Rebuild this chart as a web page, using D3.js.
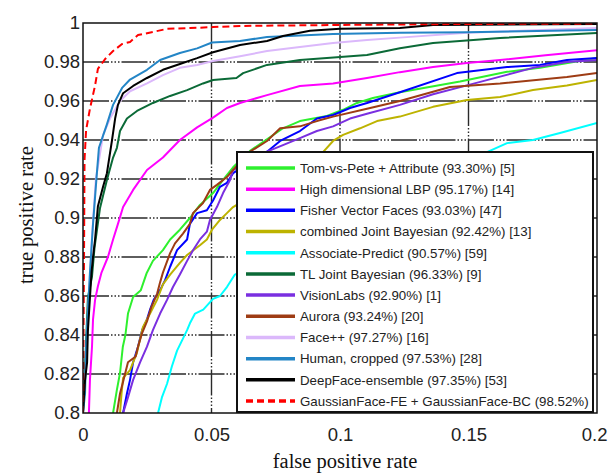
<!DOCTYPE html>
<html><head><meta charset="utf-8">
<script src="https://cdn.jsdelivr.net/npm/d3@7"></script>
<style>
html,body{margin:0;padding:0;background:#fff;}
svg{display:block;}
</style></head>
<body>
<svg id="chart" width="608" height="473"></svg>
<script>
// ---- data (fpr, tpr) ----
const xTicks = [0, 0.05, 0.1, 0.15, 0.2];
const xTickLabels = ["0", "0.05", "0.1", "0.15", "0.2"];
const yTicks = [0.8, 0.82, 0.84, 0.86, 0.88, 0.9, 0.92, 0.94, 0.96, 0.98, 1];
const yTickLabels = ["0.8", "0.82", "0.84", "0.86", "0.88", "0.9", "0.92", "0.94", "0.96", "0.98", "1"];

const seriesNames = [
  "Tom-vs-Pete + Attribute (93.30%) [5]",
  "High dimensional LBP (95.17%) [14]",
  "Fisher Vector Faces (93.03%) [47]",
  "combined Joint Bayesian (92.42%) [13]",
  "Associate-Predict (90.57%) [59]",
  "TL Joint Bayesian (96.33%) [9]",
  "VisionLabs (92.90%) [1]",
  "Aurora (93.24%) [20]",
  "Face++ (97.27%) [16]",
  "Human, cropped (97.53%) [28]",
  "DeepFace-ensemble (97.35%) [53]",
  "GaussianFace-FE + GaussianFace-BC (98.52%)"
];

const tomVsPete = [[0.0117,0.8],[0.0132,0.812],[0.0144,0.8205],[0.0155,0.834],[0.0165,0.84],[0.0175,0.851],[0.0195,0.8595],[0.0225,0.863],[0.0247,0.8715],[0.0272,0.878],[0.0311,0.8835],[0.0339,0.889],[0.0377,0.894],[0.0416,0.9],[0.0455,0.9067],[0.0506,0.9128],[0.0545,0.9195],[0.0584,0.926],[0.065,0.9344],[0.0778,0.946],[0.0844,0.9497],[0.0949,0.9523],[0.1012,0.9555],[0.1066,0.959],[0.1128,0.9615],[0.1233,0.9645],[0.1467,0.97],[0.165,0.975],[0.1778,0.977],[0.2,0.982]];
const highDimLBP = [[0.0023,0.8],[0.0027,0.817],[0.0035,0.834],[0.0039,0.848],[0.0047,0.858],[0.0058,0.865],[0.0072,0.872],[0.0097,0.88],[0.0117,0.889],[0.0136,0.897],[0.0156,0.9056],[0.0195,0.9144],[0.0249,0.9246],[0.0311,0.931],[0.0377,0.94],[0.0444,0.9465],[0.0506,0.9515],[0.056,0.9564],[0.0611,0.959],[0.0716,0.963],[0.0844,0.9677],[0.0973,0.969],[0.1105,0.9718],[0.1233,0.9748],[0.1362,0.9774],[0.1494,0.9795],[0.1623,0.981],[0.18,0.9835],[0.2,0.986]];
const fisherVector = [[0.0156,0.8],[0.0171,0.81],[0.0183,0.817],[0.0195,0.826],[0.0214,0.834],[0.023,0.8425],[0.0249,0.848],[0.0261,0.853],[0.0275,0.858],[0.03,0.863],[0.0319,0.868],[0.0339,0.875],[0.0366,0.8835],[0.0405,0.889],[0.0416,0.897],[0.0444,0.9025],[0.0482,0.904],[0.0506,0.909],[0.0533,0.916],[0.056,0.918],[0.0584,0.923],[0.0716,0.934],[0.0767,0.9395],[0.0844,0.9446],[0.091,0.951],[0.0973,0.9528],[0.1039,0.9564],[0.1105,0.959],[0.1233,0.9645],[0.1455,0.9743],[0.165,0.9774],[0.1778,0.9785],[0.1883,0.981],[0.2,0.982]];
const combinedJB = [[0.0144,0.8],[0.015,0.81],[0.0156,0.818],[0.0183,0.822],[0.021,0.831],[0.0233,0.844],[0.0261,0.851],[0.0288,0.858],[0.0311,0.866],[0.0339,0.871],[0.0377,0.877],[0.0405,0.881],[0.0455,0.886],[0.0482,0.889],[0.0502,0.894],[0.0533,0.899],[0.056,0.9025],[0.0584,0.9056],[0.0934,0.9338],[0.0973,0.9395],[0.1012,0.9426],[0.1078,0.946],[0.1144,0.9497],[0.1233,0.952],[0.1362,0.957],[0.1494,0.9605],[0.1623,0.962],[0.1751,0.9656],[0.1883,0.968],[0.2,0.9708]];
const associatePredict = [[0.0292,0.8],[0.0307,0.808],[0.0327,0.815],[0.0346,0.824],[0.0366,0.832],[0.0386,0.8374],[0.0405,0.8425],[0.0416,0.846],[0.0436,0.851],[0.0468,0.853],[0.0506,0.8585],[0.0533,0.86],[0.056,0.8646],[0.0591,0.871],[0.1572,0.9338],[0.165,0.9384],[0.1751,0.94],[0.1856,0.9436],[0.2,0.9487]];
const tlJointBayesian = [[0,0.8],[0.001,0.83],[0.0019,0.859],[0.0035,0.87],[0.0045,0.885],[0.0066,0.905],[0.0093,0.9195],[0.0117,0.931],[0.0132,0.936],[0.0144,0.9446],[0.0171,0.951],[0.021,0.9549],[0.0272,0.959],[0.0339,0.9626],[0.0405,0.9656],[0.0467,0.969],[0.0506,0.9708],[0.0597,0.9718],[0.0623,0.9743],[0.0716,0.9785],[0.0844,0.981],[0.0949,0.982],[0.1105,0.9836],[0.1233,0.987],[0.1362,0.9897],[0.1623,0.9923],[0.2,0.9949]];
const visionLabs = [[0.0156,0.8],[0.0175,0.808],[0.0195,0.817],[0.0222,0.826],[0.0249,0.834],[0.0272,0.8425],[0.03,0.851],[0.0327,0.858],[0.035,0.8646],[0.0377,0.871],[0.0405,0.878],[0.0428,0.8835],[0.0455,0.889],[0.0482,0.893],[0.0494,0.899],[0.0521,0.9056],[0.0545,0.9128],[0.0572,0.9195],[0.0584,0.9246],[0.0716,0.934],[0.0778,0.9374],[0.0844,0.941],[0.091,0.9446],[0.0973,0.947],[0.1039,0.951],[0.1105,0.9535],[0.1233,0.958],[0.1362,0.9635],[0.1494,0.968],[0.1623,0.9725],[0.1751,0.977],[0.1883,0.98],[0.2,0.981]];
const aurora = [[0.0132,0.8],[0.0144,0.81],[0.0156,0.816],[0.0175,0.826],[0.0205,0.829],[0.0214,0.834],[0.023,0.841],[0.0249,0.847],[0.0265,0.854],[0.0288,0.861],[0.03,0.867],[0.0311,0.872],[0.0339,0.882],[0.0358,0.887],[0.0389,0.892],[0.0416,0.897],[0.0428,0.9025],[0.0467,0.9077],[0.0494,0.9144],[0.0521,0.917],[0.056,0.921],[0.0584,0.9246],[0.065,0.934],[0.0716,0.9395],[0.0767,0.946],[0.0844,0.947],[0.091,0.9497],[0.0973,0.952],[0.1105,0.956],[0.1233,0.96],[0.1428,0.9672],[0.1623,0.969],[0.1883,0.9723],[0.2,0.9744]];
const facePlusPlus = [[0,0.8],[0.001,0.82],[0.0023,0.86],[0.0035,0.89],[0.005,0.92],[0.0078,0.9425],[0.0105,0.951],[0.0144,0.96],[0.0183,0.965],[0.0249,0.969],[0.0311,0.9733],[0.0377,0.977],[0.0444,0.9785],[0.0506,0.9805],[0.0611,0.983],[0.0716,0.9856],[0.0844,0.9877],[0.0973,0.9897],[0.1105,0.9913],[0.1233,0.9925],[0.1494,0.995],[0.2,0.9974]];
const humanCropped = [[0,0.8],[0.0008,0.81],[0.0012,0.834],[0.0027,0.872],[0.0039,0.897],[0.0054,0.923],[0.0062,0.936],[0.0093,0.948],[0.0117,0.958],[0.0152,0.9667],[0.0183,0.971],[0.0249,0.976],[0.03,0.981],[0.0377,0.9846],[0.0444,0.987],[0.0502,0.99],[0.0611,0.9908],[0.0716,0.9928],[0.0973,0.9944],[0.1233,0.995],[0.1494,0.9952],[0.2,0.9964]];
const deepFace = [[0,0.8],[0.0008,0.817],[0.0016,0.826],[0.0019,0.842],[0.0027,0.859],[0.0033,0.872],[0.0039,0.88],[0.0047,0.889],[0.0058,0.906],[0.0078,0.916],[0.0093,0.923],[0.0113,0.94],[0.0125,0.951],[0.0136,0.958],[0.0156,0.964],[0.0195,0.9677],[0.0249,0.9718],[0.0311,0.976],[0.0377,0.979],[0.0444,0.982],[0.0506,0.985],[0.0611,0.9887],[0.0716,0.9908],[0.0778,0.9933],[0.0883,0.996],[0.1,0.997],[0.1233,0.9974],[0.1362,0.999],[0.2,0.9995]];
const gaussianFace = [[0,0.8],[0.0004,0.88],[0.0006,0.93],[0.0012,0.945],[0.0027,0.956],[0.0047,0.968],[0.0058,0.9765],[0.0086,0.9815],[0.0117,0.9856],[0.0152,0.9892],[0.0183,0.9903],[0.0214,0.9938],[0.0272,0.9954],[0.0327,0.997],[0.0416,0.9974],[0.0506,0.9979],[0.061,0.9985],[0.1,0.999],[0.15,0.9995],[0.2,0.9997]];

const seriesData = [tomVsPete, highDimLBP, fisherVector, combinedJB, associatePredict, tlJointBayesian, visionLabs, aurora, facePlusPlus, humanCropped, deepFace, gaussianFace];
const seriesColors = ["#2ef02e", "#ff00ff", "#0000ff", "#bdb300", "#00ffff", "#0b6a37", "#7a2fe0", "#9e3c14", "#dbb8fb", "#2385c6", "#000000", "#ff0000"];
const seriesDashed = [false,false,false,false,false,false,false,false,false,false,false,true];

// ---- layout ----
const svg = d3.select("#chart");
const L = 83, R = 597, T = 23, B = 413;
const x = d3.scaleLinear().domain([0, 0.2]).range([L, R]);
const y = d3.scaleLinear().domain([0.8, 1]).range([B, T]);

svg.append("defs").append("clipPath").attr("id", "clip")
  .append("rect").attr("x", L).attr("y", T).attr("width", R - L).attr("height", B - T);

// grid
const gridDash = "26,2,1.5,2,1.5,2,1.5,2";
const grid = svg.append("g");
grid.selectAll("line.h").data(yTicks.slice(1, -1)).join("line")
  .attr("x1", L).attr("x2", R).attr("y1", d => y(d)).attr("y2", d => y(d))
  .attr("stroke", "#2a2a2a").attr("stroke-width", 1.4).attr("stroke-dasharray", gridDash);
grid.selectAll("line.v").data(xTicks.slice(1, -1)).join("line")
  .attr("y1", T).attr("y2", B).attr("x1", d => x(d)).attr("x2", d => x(d))
  .attr("stroke", "#2a2a2a").attr("stroke-width", 1.4).attr("stroke-dasharray", gridDash);

// curves
const line = d3.line().x(d => x(d[0])).y(d => y(d[1])).curve(d3.curveLinear);
const curves = svg.append("g").attr("clip-path", "url(#clip)");
seriesData.forEach((s, i) => {
  curves.append("path").datum(s).attr("d", line)
    .attr("fill", "none").attr("stroke", seriesColors[i])
    .attr("stroke-width", 2).attr("stroke-linejoin", "round")
    .attr("stroke-dasharray", seriesDashed[i] ? "7,4" : null);
});

// frame
svg.append("rect").attr("x", L).attr("y", T).attr("width", R - L).attr("height", B - T)
  .attr("fill", "none").attr("stroke", "#111").attr("stroke-width", 1.5);

// axes (tick labels only, using d3 axes)
const xAxis = d3.axisBottom(x).tickValues(xTicks).tickFormat((d, i) => xTickLabels[i]).tickSize(0).tickPadding(10);
const gx = svg.append("g").attr("transform", `translate(0,${B})`).call(xAxis);
gx.select(".domain").remove();
gx.selectAll("text").attr("font-family", "Liberation Sans, Arial, sans-serif").attr("font-size", 18.5).attr("fill", "#222")
  .attr("dy", "0.95em");
// last label: keep inside the page edge
gx.selectAll(".tick").filter(d => d === xTicks[xTicks.length - 1]).select("text")
  .attr("text-anchor", "end").attr("x", 607 - x(xTicks[xTicks.length - 1]));

const yAxis = d3.axisLeft(y).tickValues(yTicks).tickFormat((d, i) => yTickLabels[i]).tickSize(0).tickPadding(3);
const gy = svg.append("g").attr("transform", `translate(${L},0)`).call(yAxis);
gy.select(".domain").remove();
gy.selectAll("text").attr("font-family", "Liberation Sans, Arial, sans-serif").attr("font-size", 18.5).attr("fill", "#222");

// axis titles
svg.append("text").attr("x", 345).attr("y", 467.5).attr("text-anchor", "middle")
  .attr("font-family", "Liberation Serif, Times New Roman, serif").attr("font-size", 20.5).attr("fill", "#111")
  .text("false positive rate");
svg.append("text").attr("transform", "translate(33,215) rotate(-90)").attr("text-anchor", "middle")
  .attr("font-family", "Liberation Serif, Times New Roman, serif").attr("font-size", 20.5).attr("fill", "#111")
  .text("true positive rate");

// legend
const lg = svg.append("g");
lg.append("rect").attr("x", 237).attr("y", 152).attr("width", 356).attr("height", 260)
  .attr("fill", "#fff").attr("stroke", "#111").attr("stroke-width", 2);
const rowY = d3.scalePoint().domain(d3.range(seriesNames.length)).range([168, 401]);
seriesNames.forEach((name, i) => {
  const yy = rowY(i);
  lg.append("line").attr("x1", 246).attr("x2", 295).attr("y1", yy).attr("y2", yy)
    .attr("stroke", seriesColors[i]).attr("stroke-width", 3.5)
    .attr("stroke-dasharray", seriesDashed[i] ? "7,4" : null);
  lg.append("text").attr("x", 300).attr("y", yy).attr("dy", "0.36em")
    .attr("font-family", "Liberation Sans, Arial, sans-serif").attr("font-size", 13.3).attr("fill", "#222")
    .text(name);
});
</script>
</body></html>
